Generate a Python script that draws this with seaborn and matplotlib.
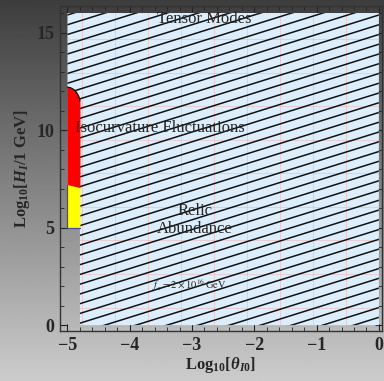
import numpy as np
import matplotlib
matplotlib.use("Agg")
import matplotlib.pyplot as plt
import seaborn as sns
import pandas as pd
from matplotlib.patches import Polygon
from matplotlib.collections import LineCollection
from matplotlib.ticker import MultipleLocator

# ---------------- data ----------------
theta_edge = -4.8      # left edge of the relic-abundance region (log10 theta)
theta_min = -5.0
H_top = 16.0
H_bottom = 0.0
red_x = [-5.0, -4.95, -4.9, -4.86, -4.83, -4.81, -4.8]
red_top = [12.2, 12.17, 12.08, 11.95, 11.8, 11.65, 11.5]
yellow_x = [-5.0, -4.8]
yellow_top = [7.2, 7.05]
yellow_bottom = 5.0
xticks = [-5, -4, -3, -2, -1, 0]
yticks = [0, 5, 10, 15]
region_labels = ["Tensor Modes", "Isocurvature Fluctuations", "Relic\nAbundance"]

# ---------------- style ----------------
sns.set_theme(style="ticks")
plt.rcParams["font.family"] = ["Liberation Serif", "DejaVu Serif"]
plt.rcParams["mathtext.fontset"] = "custom"
plt.rcParams["mathtext.rm"] = "Liberation Serif:bold"
plt.rcParams["mathtext.bf"] = "Liberation Serif:bold"
plt.rcParams["mathtext.it"] = "Liberation Serif:bold:italic"

fig = plt.figure(figsize=(3.84, 3.81), dpi=100)

# gradient background
bg = fig.add_axes([0, 0, 1, 1], zorder=-10)
grad = np.linspace(0.24, 0.80, 256).reshape(-1, 1)
bg.imshow(grad, cmap="gray", vmin=0, vmax=1, aspect="auto", extent=[0, 1, 0, 1])
bg.set_axis_off()

ax = fig.add_axes([60 / 384, 1 - 331 / 381, 322 / 384, 325 / 381])
ax.set_facecolor("none")
ax.set_xlim(-5.12, 0.05)
ax.set_ylim(-0.3, 16.36)

# blue hatched allowed region
verts = [(theta_min, H_top), (0, H_top), (0, H_bottom), (theta_edge, H_bottom)]
verts += list(zip(red_x[::-1], red_top[::-1]))
blue = Polygon(verts, closed=True, facecolor="#dceefc", edgecolor="none", zorder=1)
ax.add_patch(blue)

# faint mesh lines
mesh_x = np.arange(-4.77, 0, 0.53)
mesh_y = np.arange(0.9, 16, 1.72)
for xv in mesh_x:
    l = ax.axvline(xv, color="#f2b0b0", lw=0.6, alpha=0.6, zorder=1.5)
    l.set_clip_path(blue)
for yv in mesh_y:
    l = ax.axhline(yv, color="#f2b0b0", lw=0.6, alpha=0.6, zorder=1.5)
    l.set_clip_path(blue)

# hatch lines
slope = 1.0
segs = [[(-5.3, slope * -5.3 + c), (0.3, slope * 0.3 + c)] for c in np.arange(-0.6, 21.5, 0.5)]
lc = LineCollection(segs, colors="#111111", linewidths=1.1, zorder=2)
ax.add_collection(lc)
lc.set_clip_path(blue)

# red and yellow excluded bands
yel_interp = np.interp(red_x, yellow_x, yellow_top)
ax.fill_between(red_x, yel_interp, red_top, color="#ff0000", lw=0, zorder=3)
ax.fill_between(yellow_x, yellow_bottom, yellow_top, color="#ffff00", lw=0, zorder=3)
df_red = pd.DataFrame({"x": red_x, "y": red_top})
sns.lineplot(data=df_red, x="x", y="y", color="#111111", lw=0.9, ax=ax, zorder=4,
             sort=False, estimator=None)
ax.plot([yellow_x[0], yellow_x[0], yellow_x[1]], [yellow_top[0], yellow_bottom, yellow_bottom],
        color="#4a4aa8", lw=0.9, zorder=4)

# region labels
ax.text(-2.8, 15.7, region_labels[0], ha="center", va="center", fontsize=12, zorder=5)
ax.text(-3.52, 10.1, region_labels[1], ha="center", va="center", fontsize=12, zorder=5)
ax.text(-2.96, 5.4, region_labels[2], ha="center", va="center", fontsize=12,
        linespacing=1.15, zorder=5)
ax.text(-3.04, 2.05, r"$f_a = 2 \times 10^{16}\,\mathrm{GeV}$", ha="center", va="center",
        fontsize=7.5, zorder=5, math_fontfamily="stix")

# axes decoration
ax.set_xticks(xticks)
ax.set_yticks(yticks)
ax.xaxis.set_minor_locator(MultipleLocator(0.2))
ax.yaxis.set_minor_locator(MultipleLocator(1))
ax.tick_params(which="both", direction="in", top=True, right=True, color="#222222")
ax.tick_params(which="major", length=5, width=0.8, labelsize=13, pad=4)
ax.tick_params(which="minor", length=3, width=0.6)
for lab in ax.get_xticklabels() + ax.get_yticklabels():
    lab.set_fontweight("bold")
for s in ax.spines.values():
    s.set_color("#333333")
    s.set_linewidth(1.0)
ax.set_xlabel(r"Log$_{10}$[$\theta_{I0}$]", fontsize=12, fontweight="bold", labelpad=1)
ax.set_ylabel(r"Log$_{10}$[$H_I$/1 GeV]", fontsize=12, fontweight="bold", labelpad=3)

fig.savefig("out.png", dpi=100)
